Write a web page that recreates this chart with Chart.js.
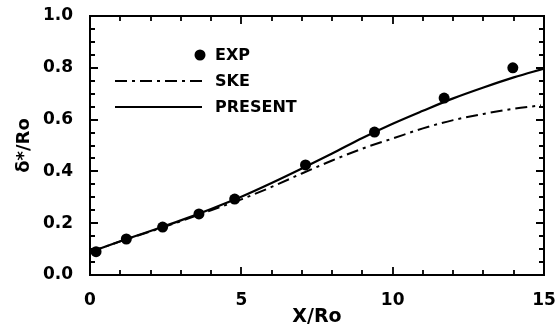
<!DOCTYPE html>
<html>
<head>
<meta charset="utf-8">
<script src="https://cdn.jsdelivr.net/npm/chart.js@4.4.1/dist/chart.umd.min.js"></script>
<style>
  html, body { margin: 0; padding: 0; background: #fff; }
  #wrap { width: 557px; height: 327px; }
</style>
</head>
<body>
<div id="wrap"><canvas id="myViz"></canvas></div>
<script>
// Experimental displacement thickness
const expX = [0.2, 1.2, 2.4, 3.6, 4.78, 7.12, 9.4, 11.7, 13.97];
const expY = [0.09, 0.139, 0.185, 0.236, 0.293, 0.425, 0.552, 0.683, 0.80];

// Standard k-epsilon prediction
const skeX = [0, 1, 2, 3, 4, 5, 6, 7, 8, 9, 10, 11, 12, 13, 14, 14.9];
const skeY = [0.088, 0.13, 0.168, 0.208, 0.25, 0.292, 0.34, 0.392, 0.442, 0.488, 0.527, 0.566, 0.598, 0.622, 0.642, 0.655];

// Present model prediction
const presentX = [0, 1, 2, 3, 4, 5, 6, 7, 8, 9, 10, 11, 12, 13, 14, 15];
const presentY = [0.088, 0.13, 0.17, 0.211, 0.255, 0.302, 0.355, 0.411, 0.469, 0.529, 0.584, 0.634, 0.682, 0.724, 0.763, 0.797];

// Axis ticks
const xMajor = [0, 5, 10, 15];
const xMinor = [1, 2, 3, 4, 6, 7, 8, 9, 11, 12, 13, 14];
const yMajor = [0, 0.2, 0.4, 0.6, 0.8, 1.0];
const yMinor = [0.05, 0.1, 0.15, 0.25, 0.3, 0.35, 0.45, 0.5, 0.55, 0.65, 0.7, 0.75, 0.85, 0.9, 0.95];

const legendLabels = ['EXP', 'SKE', 'PRESENT'];

const FONT = 'DejaVu Sans';
const toPoints = (xs, ys) => xs.map((x, i) => ({ x: x, y: ys[i] }));

// Frame, inward ticks on all four sides and the legend
const framePlugin = {
  id: 'frame',
  afterDatasetsDraw(chart) {
    const { ctx, chartArea: a, scales } = chart;
    ctx.save();
    ctx.strokeStyle = '#000';
    ctx.lineWidth = 2;
    ctx.strokeRect(a.left, a.top, a.right - a.left, a.bottom - a.top);

    const tickX = (vals, len) => {
      vals.forEach(v => {
        const px = Math.round(scales.x.getPixelForValue(v));
        ctx.beginPath();
        ctx.moveTo(px, a.bottom); ctx.lineTo(px, a.bottom - len);
        ctx.moveTo(px, a.top); ctx.lineTo(px, a.top + len);
        ctx.stroke();
      });
    };
    const tickY = (vals, len) => {
      vals.forEach(v => {
        const py = Math.round(scales.y.getPixelForValue(v));
        ctx.beginPath();
        ctx.moveTo(a.left, py); ctx.lineTo(a.left + len, py);
        ctx.moveTo(a.right, py); ctx.lineTo(a.right - len, py);
        ctx.stroke();
      });
    };
    ctx.lineWidth = 1.8;
    tickX(xMajor, 8);
    tickX(xMinor, 5);
    tickY(yMajor, 8);
    tickY(yMinor, 5);

    // legend
    const ds = chart.data.datasets;
    ctx.font = 'bold 16px "' + FONT + '"';
    ctx.fillStyle = '#000';
    ctx.textBaseline = 'middle';
    ctx.textAlign = 'left';

    ctx.beginPath();
    ctx.arc(200, 55, ds[0].pointRadius, 0, Math.PI * 2);
    ctx.fill();
    ctx.fillText(legendLabels[0], 215, 56);

    ctx.lineWidth = ds[1].borderWidth;
    ctx.setLineDash(ds[1].borderDash);
    ctx.beginPath();
    ctx.moveTo(115, 81); ctx.lineTo(202, 81);
    ctx.stroke();
    ctx.fillText(legendLabels[1], 215, 82);

    ctx.lineWidth = ds[2].borderWidth;
    ctx.setLineDash([]);
    ctx.beginPath();
    ctx.moveTo(115, 107); ctx.lineTo(202, 107);
    ctx.stroke();
    ctx.fillText(legendLabels[2], 215, 108);
    ctx.restore();
  }
};

new Chart(document.getElementById('myViz'), {
  type: 'scatter',
  data: {
    datasets: [
      {
        label: legendLabels[0],
        data: toPoints(expX, expY),
        showLine: false,
        pointRadius: 5.5,
        pointBackgroundColor: '#000',
        pointBorderWidth: 0
      },
      {
        label: legendLabels[1],
        data: toPoints(skeX, skeY),
        showLine: true,
        borderColor: '#000',
        borderWidth: 2,
        borderDash: [12, 5, 3, 5],
        cubicInterpolationMode: 'monotone',
        pointRadius: 0
      },
      {
        label: legendLabels[2],
        data: toPoints(presentX, presentY),
        showLine: true,
        borderColor: '#000',
        borderWidth: 2.2,
        cubicInterpolationMode: 'monotone',
        pointRadius: 0
      }
    ]
  },
  options: {
    responsive: true,
    maintainAspectRatio: false,
    animation: false,
    layout: { padding: { top: 16, right: 13, left: 0, bottom: 0 } },
    plugins: {
      legend: { display: false },
      tooltip: { enabled: false }
    },
    scales: {
      x: {
        type: 'linear',
        min: 0,
        max: 15,
        grid: { display: false, drawTicks: false, tickLength: 0 },
        border: { display: false },
        ticks: {
          stepSize: 5,
          padding: 15,
          color: '#000',
          font: { family: FONT, size: 17, weight: 'bold' }
        },
        title: {
          display: true,
          text: 'X/Ro',
          color: '#000',
          font: { family: FONT, size: 19, weight: 'bold', lineHeight: 1 },
          padding: { top: 0, bottom: 0 }
        },
        afterFit: (scale) => {
          scale.height = 52;
          scale.paddingLeft = 0;
          scale.paddingRight = 0;
        }
      },
      y: {
        type: 'linear',
        min: 0,
        max: 1,
        grid: { display: false, drawTicks: false, tickLength: 0 },
        border: { display: false },
        ticks: {
          stepSize: 0.2,
          padding: 17,
          color: '#000',
          font: { family: FONT, size: 17, weight: 'bold' },
          callback: (v) => v.toFixed(1)
        },
        title: {
          display: true,
          text: 'δ*/Ro',
          color: '#000',
          font: { family: FONT, size: 18, weight: 'bold', lineHeight: 1.2 },
          padding: { top: 14, bottom: 0 }
        },
        afterFit: (scale) => {
          scale.width = 90;
          scale.paddingTop = 0;
          scale.paddingBottom = 0;
        }
      }
    }
  },
  plugins: [framePlugin]
});
</script>
</body>
</html>
